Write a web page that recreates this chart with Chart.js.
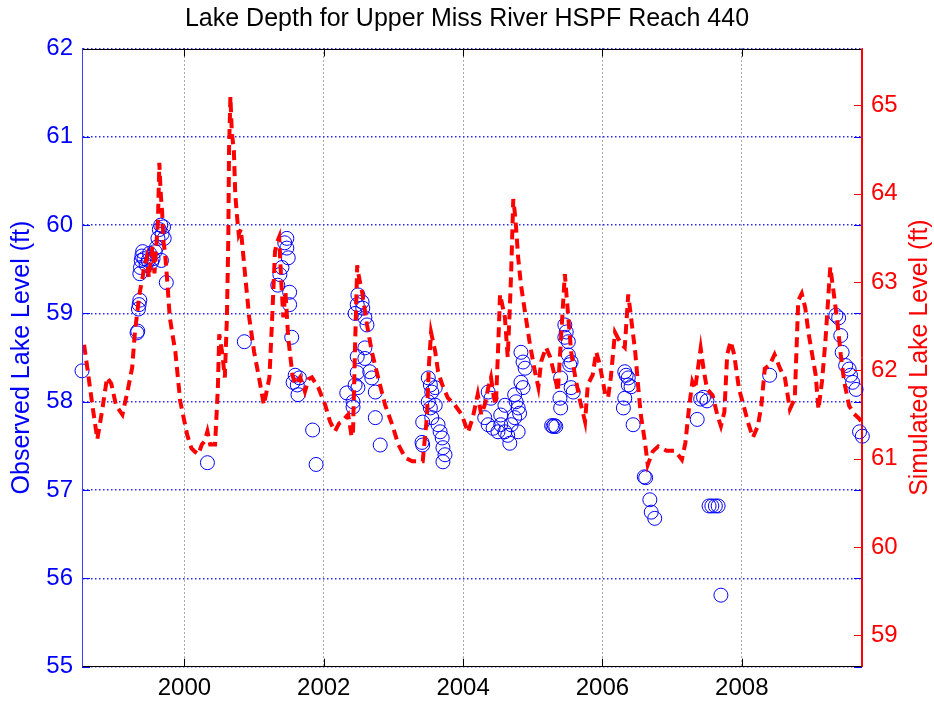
<!DOCTYPE html>
<html><head><meta charset="utf-8">
<script src="https://cdn.jsdelivr.net/npm/chart.js@4.4.0/dist/chart.umd.min.js"></script>
<style>html,body{margin:0;padding:0;background:#fff;overflow:hidden}#wrap{width:934px;height:705px;position:relative}</style>
</head><body><div id="wrap"><canvas id="c" width="934" height="705"></canvas></div>
<script>
// ---------------- data ----------------
const titleText = 'Lake Depth for Upper Miss River HSPF Reach 440';
const obsAxisTitle = 'Observed Lake Level (ft)';
const simAxisTitle = 'Simulated Lake Level (ft)';
const yearTicks = [2000, 2002, 2004, 2006, 2008];
const obsTicks = [55, 56, 57, 58, 59, 60, 61, 62];
const simTicks = [59, 60, 61, 62, 63, 64, 65];

// simulated lake level (right axis), decimal years
const simYears = [1998.56,1998.62,1998.68,1998.75,1998.82,1998.89,1998.95,1999.02,1999.11,1999.18,1999.25,1999.29,1999.33,1999.36,1999.40,1999.42,1999.46,1999.49,1999.51,1999.54,1999.57,1999.60,1999.62,1999.64,1999.66,1999.68,1999.70,1999.72,1999.75,1999.79,1999.83,1999.87,1999.94,2000.04,2000.10,2000.15,2000.20,2000.25,2000.29,2000.33,2000.37,2000.44,2000.48,2000.50,2000.54,2000.58,2000.61,2000.63,2000.64,2000.66,2000.68,2000.71,2000.73,2000.76,2000.78,2000.81,2000.83,2000.87,2000.93,2001.00,2001.07,2001.14,2001.22,2001.26,2001.30,2001.33,2001.36,2001.39,2001.42,2001.45,2001.49,2001.55,2001.59,2001.66,2001.73,2001.78,2001.83,2001.92,2002.02,2002.09,2002.16,2002.22,2002.26,2002.35,2002.40,2002.42,2002.45,2002.48,2002.49,2002.52,2002.55,2002.62,2002.69,2002.78,2002.88,2002.98,2003.07,2003.17,2003.27,2003.35,2003.42,2003.48,2003.51,2003.54,2003.60,2003.64,2003.70,2003.78,2003.88,2003.98,2004.07,2004.14,2004.21,2004.26,2004.31,2004.36,2004.40,2004.44,2004.47,2004.50,2004.53,2004.56,2004.60,2004.64,2004.67,2004.69,2004.72,2004.74,2004.76,2004.79,2004.83,2004.90,2004.96,2005.03,2005.08,2005.12,2005.19,2005.25,2005.32,2005.36,2005.41,2005.46,2005.48,2005.51,2005.55,2005.61,2005.68,2005.75,2005.79,2005.86,2005.91,2005.96,2006.04,2006.08,2006.12,2006.18,2006.22,2006.27,2006.32,2006.37,2006.41,2006.47,2006.51,2006.55,2006.61,2006.65,2006.72,2006.80,2006.92,2007.04,2007.14,2007.19,2007.24,2007.29,2007.33,2007.41,2007.45,2007.50,2007.58,2007.65,2007.70,2007.75,2007.79,2007.84,2007.89,2007.96,2008.04,2008.09,2008.16,2008.23,2008.28,2008.33,2008.40,2008.47,2008.55,2008.62,2008.69,2008.76,2008.81,2008.86,2008.91,2008.96,2009.01,2009.06,2009.10,2009.15,2009.20,2009.25,2009.27,2009.32,2009.37,2009.42,2009.47,2009.54,2009.61,2009.69,2009.72];
const simLevels = [62.29,61.95,61.60,61.22,61.55,61.92,61.85,61.60,61.50,61.75,62.03,62.44,62.70,62.89,63.05,63.17,63.28,63.05,63.20,63.40,63.10,63.45,63.70,64.35,64.00,63.80,63.45,63.35,63.05,62.60,62.40,62.21,61.65,61.27,61.12,61.08,61.05,61.16,61.20,61.31,61.16,61.16,61.80,62.41,62.21,61.92,62.60,63.50,64.48,65.10,64.70,64.48,63.99,63.70,63.54,63.60,63.43,63.09,62.60,62.21,61.92,61.61,61.92,62.60,63.35,63.45,63.51,63.00,62.60,62.89,62.37,61.95,61.84,61.92,61.76,61.90,61.92,61.81,61.61,61.42,61.31,61.40,61.42,61.50,61.25,61.31,62.30,63.19,63.12,63.00,62.89,62.52,62.21,61.92,61.61,61.39,61.16,61.01,60.97,60.97,60.97,61.47,62.07,62.43,62.21,61.99,61.84,61.69,61.61,61.50,61.30,61.47,61.73,61.50,61.61,61.80,61.92,61.70,61.61,62.20,62.86,62.75,62.60,62.15,62.70,63.12,63.94,63.80,63.62,63.28,62.97,62.60,62.29,61.99,61.81,62.10,62.26,62.15,61.92,61.76,62.43,63.09,62.89,62.60,62.21,61.92,61.65,61.42,61.84,61.95,62.21,62.07,61.73,61.69,61.92,62.43,62.37,62.30,62.26,62.86,62.60,62.21,61.84,61.50,61.19,60.93,61.08,61.14,61.09,61.09,60.99,61.18,61.56,61.87,61.79,62.25,62.02,61.79,61.72,61.49,61.37,61.53,62.18,62.33,62.18,61.79,61.56,61.41,61.24,61.37,61.60,62.02,62.06,62.18,62.02,61.91,61.56,61.68,62.79,62.87,62.71,62.41,62.18,61.95,61.56,61.87,62.33,62.94,63.17,62.87,62.56,62.18,61.87,61.60,61.51,61.45,61.41];

// observed lake level (left axis), decimal years
const obsYears = [1998.53,1999.32,1999.33,1999.34,1999.35,1999.36,1999.36,1999.37,1999.38,1999.39,1999.40,1999.42,1999.45,1999.48,1999.50,1999.53,1999.55,1999.58,1999.60,1999.62,1999.64,1999.66,1999.67,1999.68,1999.70,1999.71,1999.74,2000.33,2000.86,2001.34,2001.37,2001.40,2001.44,2001.47,2001.47,2001.49,2001.51,2001.51,2001.54,2001.56,2001.59,2001.62,2001.63,2001.65,2001.84,2001.89,2002.33,2002.42,2002.42,2002.45,2002.45,2002.48,2002.48,2002.48,2002.49,2002.49,2002.55,2002.56,2002.59,2002.59,2002.59,2002.62,2002.66,2002.69,2002.74,2002.74,2002.81,2003.41,2003.42,2003.42,2003.50,2003.50,2003.53,2003.53,2003.55,2003.55,2003.60,2003.60,2003.64,2003.67,2003.70,2003.71,2003.71,2003.74,2004.31,2004.36,2004.36,2004.40,2004.43,2004.50,2004.54,2004.54,2004.60,2004.60,2004.64,2004.67,2004.69,2004.74,2004.74,2004.76,2004.79,2004.79,2004.81,2004.83,2004.83,2004.86,2004.86,2004.89,2005.27,2005.29,2005.31,2005.33,2005.39,2005.40,2005.40,2005.46,2005.46,2005.48,2005.51,2005.51,2005.53,2005.55,2005.55,2005.58,2006.30,2006.32,2006.32,2006.34,2006.37,2006.37,2006.41,2006.44,2006.60,2006.62,2006.68,2006.70,2006.75,2007.36,2007.41,2007.45,2007.50,2007.53,2007.57,2007.62,2007.66,2007.70,2008.40,2009.35,2009.39,2009.42,2009.44,2009.49,2009.54,2009.56,2009.59,2009.64,2009.69,2009.73];
const obsLevels = [58.35,58.78,58.80,59.05,59.10,59.15,59.45,59.52,59.60,59.65,59.70,59.62,59.55,59.60,59.68,59.58,59.62,59.70,59.75,59.85,59.95,60.00,59.60,59.90,59.98,59.85,59.35,57.31,58.68,59.32,59.44,59.52,59.80,59.85,59.74,59.63,59.24,59.10,58.73,58.22,58.30,58.19,58.08,58.27,57.68,57.29,58.10,58.00,57.94,59.00,58.19,59.10,58.51,58.33,59.21,58.16,59.13,59.06,58.95,58.61,58.49,58.87,58.34,58.27,58.11,57.82,57.51,57.54,57.51,57.77,58.27,58.00,58.19,57.93,58.11,57.82,57.96,58.16,57.74,57.66,57.59,57.48,57.32,57.40,57.82,58.11,57.74,58.04,57.70,57.66,57.74,57.85,57.66,57.96,57.62,57.53,57.74,58.08,57.82,58.00,57.93,57.66,57.87,58.56,58.22,58.45,58.16,58.38,57.73,57.72,57.73,57.72,58.04,57.93,58.27,58.87,58.73,58.79,58.68,58.53,58.42,58.45,58.16,58.11,57.93,58.34,58.04,58.30,58.27,58.19,58.17,57.74,57.15,57.14,56.89,56.75,56.68,57.80,58.03,58.05,58.01,56.82,56.82,56.82,56.82,55.81,58.30,58.98,58.95,58.75,58.56,58.41,58.37,58.30,58.22,58.14,57.66,57.61];

// ---------------- chart ----------------
const FONT = "'Liberation Sans', Arial, Helvetica, sans-serif";
const simData = simYears.map((x, i) => ({x, y: simLevels[i]}));
const obsData = obsYears.map((x, i) => ({x, y: obsLevels[i]}));
const setTicks = (arr) => (scale) => { scale.ticks = arr.map(v => ({value: v})); };

const framePlugin = {
  id: 'frame',
  afterDraw(chart) {
    const {ctx, chartArea: a, scales} = chart;
    const L = Math.round(a.left) + 0.5, R = Math.round(a.right) - 0.5;
    const T = Math.round(a.top) + 0.5, B = Math.round(a.bottom) - 0.5;
    ctx.save();
    ctx.lineWidth = 1;
    const line = (x1, y1, x2, y2, c) => { ctx.strokeStyle = c; ctx.beginPath(); ctx.moveTo(x1, y1); ctx.lineTo(x2, y2); ctx.stroke(); };
    const TL = 8;
    obsTicks.forEach(v => {
      const y = Math.round(scales.y.getPixelForValue(v)) + 0.5;
      line(a.left, y, a.left + TL, y, '#0000ff');
      line(a.right - TL, y, a.right, y, '#0000ff');
    });
    simTicks.forEach(v => {
      const y = Math.round(scales.y2.getPixelForValue(v)) + 0.5;
      line(a.right - TL, y, a.right, y, '#ff0000');
    });
    yearTicks.forEach(v => {
      const x = Math.round(scales.x.getPixelForValue(v)) + 0.5;
      line(x, a.bottom, x, a.bottom - TL, '#000000');
      line(x, a.top, x, a.top + TL, '#000000');
    });
    line(a.left, T, a.right, T, '#000000');
    line(a.left, B, a.right, B, '#000000');
    line(L, a.top, L, a.bottom, '#3c3cff');
    line(R, a.top, R, a.bottom, '#ff0000');
    // axis titles (both read bottom-to-top)
    const cy = (a.top + a.bottom) / 2;
    ctx.font = '25px ' + FONT;
    ctx.textAlign = 'center';
    ctx.textBaseline = 'middle';
    ctx.save(); ctx.translate(22, cy); ctx.rotate(-Math.PI / 2); ctx.fillStyle = '#0000ff'; ctx.fillText(obsAxisTitle, 0, 0); ctx.restore();
    ctx.save(); ctx.translate(920, cy); ctx.rotate(-Math.PI / 2); ctx.fillStyle = '#ff0000'; ctx.fillText(simAxisTitle, 0, 0); ctx.restore();
    ctx.restore();
  }
};

new Chart(document.getElementById('c'), {
  data: {
    datasets: [
      {
        type: 'line', label: 'Simulated', data: simData, yAxisID: 'y2', xAxisID: 'x',
        borderColor: '#ff0000', borderWidth: 4, borderDash: [10, 6], pointRadius: 0,
        tension: 0, fill: false, order: 0, clip: 0
      },
      {
        type: 'scatter', label: 'Observed', data: obsData, yAxisID: 'y', xAxisID: 'x',
        showLine: false, pointStyle: 'circle', pointRadius: 7, pointBorderWidth: 1,
        borderColor: '#0000ff', pointBorderColor: '#0000ff', backgroundColor: 'rgba(0,0,0,0)', pointBackgroundColor: 'rgba(0,0,0,0)',
        order: 1, clip: false
      }
    ]
  },
  options: {
    responsive: false, animation: false, devicePixelRatio: 1,
    layout: {padding: 0},
    plugins: {
      legend: {display: false}, tooltip: {enabled: false},
      title: {display: true, text: titleText, color: '#000', font: {family: FONT, size: 25, weight: 'normal', lineHeight: 1.2}, padding: {top: 4, bottom: 14.5}}
    },
    scales: {
      x: {
        type: 'linear', position: 'bottom', min: 1998.53, max: 2009.725,
        afterBuildTicks: setTicks(yearTicks),
        afterFit: s => { s.height = 38.3; },
        ticks: {color: '#000', font: {family: FONT, size: 24}, padding: 7, callback: v => String(v), maxRotation: 0, autoSkip: false},
        grid: {color: '#555555', lineWidth: 1, drawTicks: false},
        border: {display: true, color: '#000', width: 1, dash: [1, 3]}
      },
      y: {
        type: 'linear', position: 'left', min: 55, max: 62,
        afterBuildTicks: setTicks(obsTicks),
        afterFit: s => { s.width = 82; },
        ticks: {color: '#0000ff', font: {family: FONT, size: 24}, padding: 9, callback: v => String(v)},
        grid: {color: '#2a2aff', lineWidth: 1.4, drawTicks: false},
        border: {display: true, color: '#3c3cff', width: 1, dash: [1.5, 2.5]}
      },
      y2: {
        type: 'linear', position: 'right', min: 58.645, max: 65.645,
        afterBuildTicks: setTicks(simTicks),
        afterFit: s => { s.width = 72; },
        ticks: {color: '#ff0000', font: {family: FONT, size: 24}, padding: 9, callback: v => String(v)},
        grid: {drawOnChartArea: false, drawTicks: false},
        border: {display: true, color: '#ff0000', width: 1}
      }
    }
  },
  plugins: [framePlugin]
});
</script>
</body></html>
